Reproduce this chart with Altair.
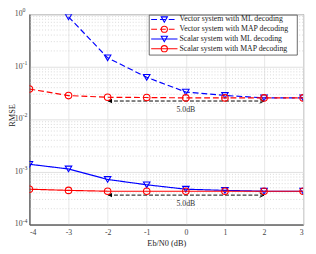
import altair as alt
import pandas as pd

# ---- data ----
ebn0 = [-4, -3, -2, -1, 0, 1, 2, 3]
vec_ml = [None, 0.89, 0.148, 0.063, 0.033, 0.0285, 0.0256, 0.0256]
vec_map = [0.0377, 0.0283, 0.0263, 0.026, 0.0256, 0.0256, 0.0256, 0.0256]
sca_ml = [0.0014, 0.00114, 0.00072, 0.00057, 0.00047, 0.000446, 0.00043, 0.00043]
sca_map = [0.00047, 0.000446, 0.00043, 0.00043, 0.00043, 0.00043, 0.00043, 0.00043]

series_names = [
    "Vector system with ML decoding",
    "Vector system with MAP decoding",
    "Scalar system with ML decoding",
    "Scalar system with MAP decoding",
]
series_vals = [vec_ml, vec_map, sca_ml, sca_map]
series_color = ["#0000ff", "#ff0000", "#0000ff", "#ff0000"]
series_dash = [[6, 3], [6, 3], [1, 0], [1, 0]]
series_shape = ["triangle-down", "circle", "triangle-down", "circle"]

arrow_y = [0.0223, 0.000363]
arrow_from = 2
arrow_to = -2
arrow_label = "5.0dB"
arrow_label_x = 0

x_ticks = [-4, -3, -2, -1, 0, 1, 2, 3]
y_ticks = [1e-4, 1e-3, 1e-2, 1e-1, 1]
y_tick_base = ["10", "10", "10", "10", "10"]
y_tick_exp = ["-4", "-3", "-2", "-1", "0"]
minor_vals = [k * 10.0 ** e for e in range(-4, 0) for k in range(2, 10)]

x_title = "Eb/N0 (dB)"
y_title = "RMSE"

FONT = "Liberation Serif"
W, H = 281, 216

xscale = alt.Scale(domain=[-4, 3], nice=False, zero=False)
yscale = alt.Scale(type="log", domain=[1e-4, 1], nice=False)

xaxis = alt.Axis(values=x_ticks, labelExpr="'' + datum.value", title=x_title,
                 grid=True, gridColor="#e6e6e6", ticks=False, labelPadding=4,
                 titlePadding=3, domainColor="#444")
yaxis = alt.Axis(values=y_ticks, labels=False, title=None,
                 grid=True, gridColor="#e0e0e0", ticks=False, domainColor="#444")

# minor grid
minor_df = pd.DataFrame({"v": minor_vals})
minor = alt.Chart(minor_df).mark_rule(color="#cfcfcf", strokeDash=[1, 2], strokeWidth=0.8).encode(
    y=alt.Y("v:Q", scale=yscale, axis=yaxis)
)
layers = [minor]

# y tick labels (10 with superscript exponent)
ylab_df = pd.DataFrame({"v": y_ticks, "b": y_tick_base, "e": y_tick_exp})
layers.append(alt.Chart(ylab_df).mark_text(font=FONT, fontSize=8, align="right",
                                           baseline="middle", color="#444").encode(
    x=alt.value(-7), y=alt.Y("v:Q", scale=yscale), text="b:N"))
layers.append(alt.Chart(ylab_df).mark_text(font=FONT, fontSize=6, align="left",
                                           baseline="middle", dy=-4, color="#444").encode(
    x=alt.value(-7), y=alt.Y("v:Q", scale=yscale), text="e:N"))
# y title
layers.append(alt.Chart(pd.DataFrame({"t": [y_title]})).mark_text(
    font=FONT, fontSize=8.5, angle=270, align="center", baseline="middle", color="#222").encode(
    x=alt.value(-18), y=alt.value(H / 2 - 4), text="t:N"))

rows = []
for name, vals in zip(series_names, series_vals):
    for x, v in zip(ebn0, vals):
        if v is not None:
            rows.append({"series": name, "x": x, "y": v})
df = pd.DataFrame(rows)

# arrows
arr_df = pd.DataFrame({"y": arrow_y, "x1": [arrow_from] * 2, "x2": [arrow_to] * 2,
                       "lx": [arrow_label_x] * 2, "label": [arrow_label] * 2})
arrow_lines = alt.Chart(arr_df).mark_rule(color="black", strokeDash=[4, 2], strokeWidth=1).encode(
    x=alt.X("x1:Q", scale=xscale, axis=xaxis), x2="x2:Q", y=alt.Y("y:Q", scale=yscale)
)
arrow_left = alt.Chart(arr_df).mark_point(shape="M2,-1L0,0L2,1Z", filled=True, color="black",
                                          size=20, opacity=1).encode(
    x=alt.X("x2:Q", scale=xscale), y=alt.Y("y:Q", scale=yscale)
)
arrow_right = alt.Chart(arr_df).mark_point(shape="M-2,-1L0,0L-2,1", filled=False, color="black",
                                           size=20, strokeWidth=1, opacity=1).encode(
    x=alt.X("x1:Q", scale=xscale), y=alt.Y("y:Q", scale=yscale)
)
arrow_text = alt.Chart(arr_df).mark_text(font=FONT, fontSize=8, dy=9, color="#333").encode(
    x=alt.X("lx:Q", scale=xscale), y=alt.Y("y:Q", scale=yscale), text="label:N"
)
layers += [arrow_lines, arrow_left, arrow_right, arrow_text]

for name, color, dash, shape in zip(series_names, series_color, series_dash, series_shape):
    sdf = df[df["series"] == name]
    base = alt.Chart(sdf).encode(
        x=alt.X("x:Q", scale=xscale, axis=xaxis),
        y=alt.Y("y:Q", scale=yscale, axis=yaxis),
    )
    layers.append(base.mark_line(color=color, strokeDash=dash, strokeWidth=1.2, clip=True))
    layers.append(base.mark_point(shape=shape, color=color, filled=False, size=45,
                                  strokeWidth=1.1, opacity=1, clip=True))

# manual legend
leg_df = pd.DataFrame({"dummy": [0]})
layers.append(alt.Chart(leg_df).mark_rect(fill="white", stroke="#444", strokeWidth=0.8).encode(
    x=alt.value(123), x2=alt.value(275), y=alt.value(1), y2=alt.value(42)))
entry_y = [5.5, 15.5, 25.5, 35.5]
for name, color, dash, shape, ey in zip(series_names, series_color, series_dash, series_shape, entry_y):
    layers.append(alt.Chart(leg_df).mark_rule(color=color, strokeDash=dash, strokeWidth=1.2).encode(
        x=alt.value(125), x2=alt.value(152), y=alt.value(ey)))
    layers.append(alt.Chart(leg_df).mark_point(shape=shape, color=color, filled=False, size=40,
                                               strokeWidth=1.1, opacity=1).encode(
        x=alt.value(138.5), y=alt.value(ey)))
    layers.append(alt.Chart(pd.DataFrame({"t": [name]})).mark_text(
        font=FONT, fontSize=8, align="left", baseline="middle", color="#222").encode(
        x=alt.value(154), y=alt.value(ey), text="t:N"))

chart = alt.layer(*layers).properties(
    width=W, height=H,
    autosize=alt.AutoSizeParams(type="none"),
    padding={"left": 22, "top": 3, "right": 5, "bottom": 30},
).configure_view(stroke="#444", strokeWidth=1).configure_axis(
    labelFont=FONT, titleFont=FONT, labelFontSize=8, titleFontSize=8.5,
    titleFontWeight="normal", labelColor="#444", titleColor="#222"
)

chart.save("out.html", embed_options={"renderer": "svg", "actions": False})
